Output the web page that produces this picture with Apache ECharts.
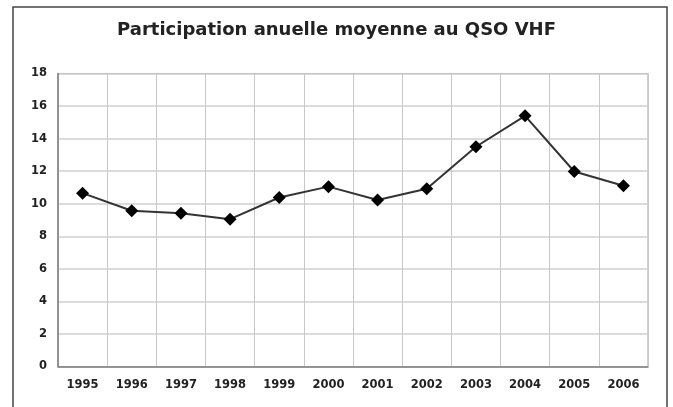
<!DOCTYPE html>
<html>
<head>
<meta charset="utf-8">
<script src="https://cdn.jsdelivr.net/npm/echarts@6/dist/echarts.min.js"></script>
<style>
  html, body { margin: 0; padding: 0; background: #fff; }
  #chart { width: 673px; height: 407px; }
</style>
</head>
<body>
<div id="chart"></div>
<script>
// annees et participation moyenne
const years = ['1995', '1996', '1997', '1998', '1999', '2000', '2001', '2002', '2003', '2004', '2005', '2006'];
const participation = [10.65, 9.57, 9.42, 9.05, 10.38, 11.05, 10.23, 10.92, 13.5, 15.4, 11.98, 11.1];
const yTicks = [0, 2, 4, 6, 8, 10, 12, 14, 16, 18];

const chart = echarts.init(document.getElementById('chart'));
chart.setOption({
  animation: false,
  title: {
    text: 'Participation anuelle moyenne au QSO VHF',
    left: 'center',
    top: 16,
    textStyle: { fontFamily: 'DejaVu Sans', fontSize: 18, fontWeight: 'bold', color: '#222' }
  },
  graphic: [{
    type: 'rect',
    shape: { x: 13, y: 7, width: 654, height: 420 },
    style: { fill: 'none', stroke: '#444', lineWidth: 1.5 },
    silent: true
  }],
  grid: {
    left: 58, right: 25, top: 73.5, bottom: 40.5,
    show: true, borderColor: '#a0a0a0', borderWidth: 1
  },
  xAxis: {
    type: 'category',
    data: years,
    boundaryGap: true,
    axisLine: { lineStyle: { color: '#808080', width: 1.5 } },
    axisTick: { show: false },
    splitLine: { show: true, interval: 0, lineStyle: { color: '#c8c8c8', width: 1 } },
    axisLabel: { interval: 0, margin: 13, fontFamily: 'DejaVu Sans', fontSize: 11.5, fontWeight: 'bold', color: '#222' }
  },
  yAxis: {
    type: 'value',
    min: yTicks[0],
    max: yTicks[yTicks.length - 1],
    interval: 2,
    axisLine: { show: true, lineStyle: { color: '#808080', width: 1.5 } },
    axisTick: { show: false },
    splitLine: { lineStyle: { color: '#cfcfcf', width: 1.5 } },
    axisLabel: { margin: 11, fontFamily: 'DejaVu Sans', fontSize: 11.5, fontWeight: 'bold', color: '#222' }
  },
  series: [{
    type: 'line',
    data: participation,
    symbol: 'diamond',
    symbolSize: 13,
    itemStyle: { color: '#000' },
    lineStyle: { color: '#333', width: 2 }
  }]
});
</script>
</body>
</html>
